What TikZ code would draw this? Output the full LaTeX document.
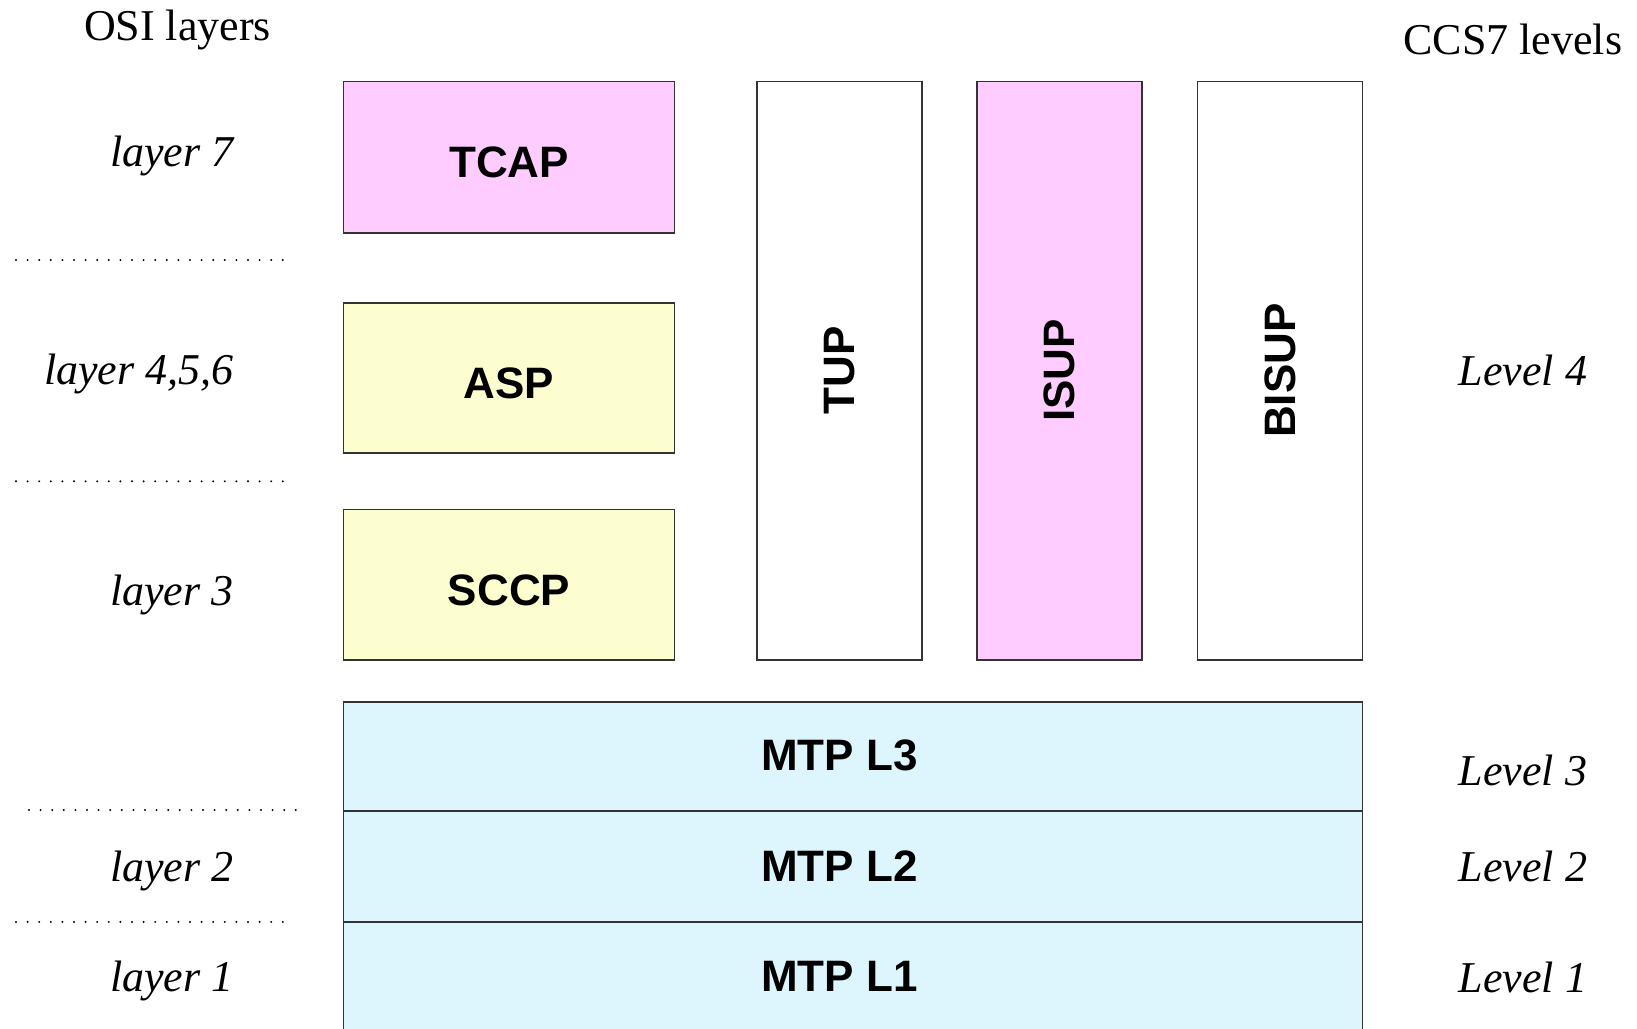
\documentclass[tikz,border=0pt]{standalone}
\usepackage{fontspec}
\setmainfont{Liberation Serif}
\setsansfont{Liberation Sans}
\definecolor{pinkc}{HTML}{FFCCFF}
\definecolor{yellowc}{HTML}{FDFED0}
\definecolor{cyanc}{HTML}{DDF5FC}
\definecolor{edgec}{HTML}{333333}
\tikzset{
  box/.style={draw=edgec, line width=0.9pt, inner sep=0pt},
  txt/.style={inner sep=0pt, font=\sffamily\bfseries\fontsize{22}{26}\selectfont},
  boxlabel/.style={inner sep=0pt, font=\sffamily\bfseries\fontsize{22}{26}\selectfont, rotate=90},
  osi/.style={inner sep=0pt, anchor=east, font=\itshape\fontsize{22}{26}\selectfont},
  lvl/.style={inner sep=0pt, anchor=west, font=\itshape\fontsize{22}{26}\selectfont},
  head/.style={inner sep=0pt, font=\fontsize{22}{26}\selectfont},
  sep/.style={line width=1.1pt, line cap=round, dash pattern=on 0pt off 5.8pt, draw=black}
}
\begin{document}
\begin{tikzpicture}[x=0.5pt, y=-0.5pt]
\useasboundingbox (0,0) rectangle (1637,1028);
\clip (0,0) rectangle (1637,1028);
% headers
\node[head] (osi) at (177.5,30) {OSI layers};
\node[head] (ccs) at (1512.8,39.7) {CCS7 levels};
% left column boxes
\node[box, fill=pinkc, minimum width=165.45pt, minimum height=75.7pt] (tcap) at (509,157.1) {};
\node[box, fill=yellowc, minimum width=165.45pt, minimum height=75.15pt] (asp) at (509,378) {};
\node[box, fill=yellowc, minimum width=165.45pt, minimum height=75.15pt] (sccp) at (509,584.6) {};
\node[txt, yshift=-2.6pt] (tcapl) at (tcap.center) {TCAP};
\node[txt, yshift=-2.9pt] (aspl) at (asp.center) {ASP};
\node[txt, yshift=-2.9pt] (sccpl) at (sccp.center) {SCCP};
% tall boxes
\node[box, fill=white, minimum width=82.5pt, minimum height=289.2pt] (tup) at (839.4,370.6) {};
\node[box, fill=pinkc, minimum width=82.5pt, minimum height=289.2pt] (isup) at (1059.7,370.6) {};
\node[box, fill=white, minimum width=82.5pt, minimum height=289.2pt] (bisup) at (1280,370.6) {};
\node[boxlabel] (tupl) at (tup.center) {TUP};
\node[boxlabel] (isupl) at (isup.center) {ISUP};
\node[boxlabel] (bisupl) at (bisup.center) {BISUP};
% MTP
\node[box, fill=cyanc, minimum width=509.45pt, minimum height=54.8pt] (mtp3) at (853,756.4) {};
\node[box, fill=cyanc, minimum width=509.45pt, minimum height=55.35pt] (mtp2) at (853,866.5) {};
\node[box, fill=cyanc, minimum width=509.45pt, minimum height=55.35pt] (mtp1) at (853,977.2) {};
\node[txt] (mtp3l) at (839.4,755) {MTP L3};
\node[txt] (mtp2l) at (839.4,866.5) {MTP L2};
\node[txt] (mtp1l) at (839.4,976) {MTP L1};
% OSI labels
\node[osi] (l7) at (234,155.6) {layer 7};
\node[osi] (l456) at (234,374) {layer 4,5,6};
\node[osi] (l3) at (234,595.2) {layer 3};
\node[osi] (l2) at (234,870.7) {layer 2};
\node[osi] (l1) at (234,981.2) {layer 1};
% CCS7 levels
\node[lvl] (v4) at (1458.5,370.6) {Level 4};
\node[lvl] (v3) at (1458.5,770.5) {Level 3};
\node[lvl] (v2) at (1458.5,866.5) {Level 2};
\node[lvl] (v1) at (1458.5,977) {Level 1};
% dotted separators
\coordinate (d1a) at (16,260); \coordinate (d1b) at (283,260);
\coordinate (d2a) at (16,481.3); \coordinate (d2b) at (283,481.3);
\coordinate (d3a) at (29,810); \coordinate (d3b) at (297,810);
\coordinate (d4a) at (16,921.9); \coordinate (d4b) at (283,921.9);
\draw[sep] (d1a) -- (d1b);
\draw[sep] (d2a) -- (d2b);
\draw[sep] (d3a) -- (d3b);
\draw[sep] (d4a) -- (d4b);
\end{tikzpicture}
\end{document}
